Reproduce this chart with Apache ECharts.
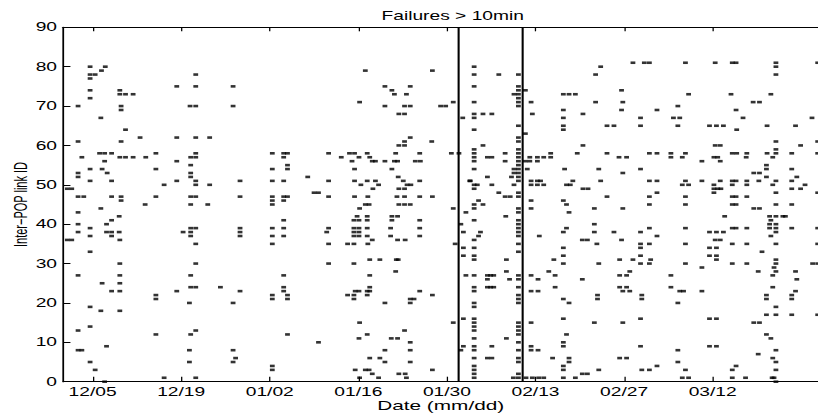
<!DOCTYPE html>
<html><head><meta charset="utf-8">
<script src="https://cdn.jsdelivr.net/npm/echarts@6/dist/echarts.min.js"></script>
<style>
html,body{margin:0;padding:0;background:#fff;overflow:hidden}
#wrap{width:818px;height:418px;overflow:hidden}
#chart{width:511px;height:418px;transform:scaleX(1.60078);transform-origin:0 0}
</style>
</head><body><div id="wrap"><div id="chart"></div></div>
<script>
// x values: days after 12/05; y values: inter-POP link ID
const tickDays = [0, 14, 28, 42, 56, 70, 84, 98];
const tickLabels = ['12/05', '12/19', '01/02', '01/16', '01/30', '02/13', '02/27', '03/12'];
const dayRange = [-4.62, 114.65];
const linkRange = [0, 90];
const eventDays = [57.9, 67.8];

const failuresDec = [
  [-4.0,49],[-3.3,49],[-2.3,70],[-2.3,61],[-2.3,53],[-2.3,52],[-2.3,47],[-1.4,47],[-1.7,57],
  [-0.4,80],[-0.4,78],[0.4,78],[-0.4,77],[-0.4,74],[-0.4,72],[-0.4,54],[-0.4,51],
  [1.3,67],[1.4,79],[2.0,80],[1.1,58],[1.9,58],[3.0,58],[1.9,56],[1.5,54],[2.3,53],[3.0,51],[3.0,47],[1.3,44],
  [4.3,74],[4.3,73],[5.2,73],[6.4,73],[4.5,70],[4.5,69],[5.2,64],[4.5,61],[4.3,57],[5.2,57],[6.4,57],[4.5,47],[4.5,46],
  [7.5,62],[8.4,57],[10.0,58],[10.0,54],[10.0,47],[8.3,45],[11.3,50],
  [13.3,75],[13.3,62],[13.3,56],[13.3,51],
  [15.4,70],[16.3,70],[16.3,78],[16.3,75],[16.3,62],[16.3,58],[16.3,57],[15.5,57],[15.5,55],[15.5,53],[15.5,52],[16.3,51],[16.3,50],[15.5,47],[16.3,47],[15.5,45],
  [18.5,62],[18.5,50],[18.2,45],[22.2,75],[22.2,70],[23.3,51],[23.3,47],
  [28.4,58],[28.4,54],[28.4,51],[28.4,47],[28.4,46],[28.4,45],
  [30.2,58],[30.8,58],[30.2,57],[30.8,55],[30.8,54],[30.2,51],[30.2,47],[30.8,47],[30.2,46],
  [-4.0,36],[-3.3,36],[-2.3,43],[-2.3,40],[-2.3,38],[-2.3,27],[-2.3,13],[-2.3,8],[-1.7,8],
  [-0.4,39],[-0.4,37],[-0.4,33],[-0.4,19],[-0.4,14],[-0.4,5],[0.4,3],
  [1.5,25],[1.3,18],[2.2,40],[3.0,41],[2.2,38],[3.0,38],[4.2,38],[3.0,37],[4.2,42],[4.3,36],[2.2,9],
  [4.3,30],[4.3,27],[4.3,25],[3.0,23],[4.3,23],[4.3,18],[1.9,0],
  [10.0,22],[10.0,21],[10.0,12],[11.3,1],[13.3,23],
  [14.3,38],[15.5,38],[15.5,39],[16.3,39],[15.5,37],[16.3,35],[16.3,30],[15.5,27],[15.5,24],[16.3,24],[15.3,20],[15.5,12],[16.3,13],[15.3,8],[15.3,5],[16.3,1],
  [20.2,24],[22.2,20],[22.2,8],[22.6,6],[22.2,5],[23.3,39],[23.3,38],[23.3,37],[23.3,23],
  [28.4,39],[28.4,37],[28.4,35],[28.4,22],[28.4,21],[28.4,4],[28.4,3],
  [30.2,41],[30.2,39],[30.2,37],[30.2,27],[30.2,24],[30.2,23],[30.8,22],[30.8,21],[30.8,12]
];

const failuresJan = [
  [43.1,79],[53.7,79],[46.2,75],[47.3,74],[47.7,73],[50.2,75],[49.6,73],
  [42.2,71],[46.2,70],[49.3,70],[50.2,70],[48.4,68],[49.3,68],[55.0,70],[55.8,70],[57.0,71],[58.5,67],
  [50.2,62],[49.3,61],[49.3,60],[48.4,60],[53.6,61],
  [37.3,58],[40.6,58],[41.4,58],[43.4,58],[47.9,58],[51.7,58],[56.7,58],[57.9,58],
  [39.3,57],[42.1,57],[43.8,57],
  [41.0,56],[44.2,56],[44.7,56],[46.2,56],[47.7,56],[48.2,56],[51.0,56],[51.8,56],
  [41.4,54],[47.3,54],[34.0,52],[48.3,52],[59.6,51],
  [37.3,51],[41.4,51],[43.4,51],[44.7,51],[49.1,51],[51.7,51],
  [42.4,50],[45.2,50],[49.7,50],[50.3,50],[44.3,49],[48.4,49],[49.3,49],[35.0,48],[35.7,48],
  [37.3,47],[41.4,47],[43.5,47],[48.1,47],[49.3,47],[51.7,47],[53.7,47],
  [43.1,45],[43.7,45],[48.4,45],[49.3,45],[50.2,45],
  [42.2,44],[57.0,44],[59.0,43],
  [41.8,42],[43.4,42],[47.3,42],[48.2,42],
  [41.3,41],[42.1,41],[43.4,41],[47.3,41],[51.7,41],
  [37.3,39],[41.3,39],[42.1,39],[43.4,39],[47.1,39],[51.7,39],
  [37.0,38],[41.3,38],[42.1,38],
  [41.3,37],[42.1,37],[43.4,37],[47.1,37],[51.7,37],
  [44.2,36],[48.2,36],[49.4,36],
  [37.3,35],[40.3,35],[41.3,35],[43.5,35],[57.3,35],
  [58.6,38],[58.2,40],[58.6,34],[58.6,32],
  [43.8,31],[45.4,31],[48.0,31],[48.3,31],[37.3,30],[41.3,30],
  [47.9,28],[43.8,27],[59.0,27],[43.8,24],
  [41.5,23],[42.1,23],[43.4,23],[43.8,23],[51.7,23],
  [53.7,22],[40.3,22],[41.3,22],[43.4,22],
  [41.3,21],[50.2,21],[50.8,21],[50.2,20],[46.2,20],
  [42.2,15],[57.0,15],[58.6,16],[49.3,13],[42.1,11],[43.4,12],[35.7,10],[47.2,11],[48.2,11],[50.2,10],
  [58.6,9],[58.2,8],[46.2,8],[50.2,8],[43.8,6],[45.4,6],[46.2,5],[50.2,5],
  [41.5,3],[43.1,3],[43.7,3],[53.7,3],[48.4,2],[49.4,2],[44.2,2],[42.2,1],[45.2,1],[49.6,1]
];

const failuresFeb = [
  [60.3,80],[60.3,78],[64.2,78],[67.3,78],[60.3,75],
  [67.3,75],[67.3,74],[67.3,73],[67.3,72],[67.3,71],[67.3,70],[68.4,74],[66.6,73],
  [60.3,71],[69.3,71],[60.3,68],[61.7,68],[63.1,68],[60.3,67],[69.5,68],
  [60.3,64],[67.3,65],[68.4,63],[67.3,62],[67.3,61],[61.7,60],[67.3,59],[60.3,59],
  [60.3,58],[60.3,57],[60.3,56],[62.4,57],[63.1,57],[65.2,58],[65.2,56],
  [67.3,58],[67.3,57],[67.3,56],[67.3,55],[67.3,54],[67.3,53],[67.3,52],[67.3,51],[66.6,54],[66.6,53],[66.2,52],
  [68.4,56],[69.1,57],[70.3,57],[71.3,57],[69.1,56],[70.3,56],
  [60.3,54],[62.4,52],[59.7,51],[60.3,50],[60.8,50],[60.3,49],[63.1,50],[66.6,50],[64.2,48],[65.2,47],[66.0,47],[67.3,48],[67.3,47],
  [61.0,46],[61.7,45],[60.3,45],
  [74.4,73],[75.3,73],[76.3,73],[79.5,71],[80.3,80],[79.5,78],[85.4,81],[83.6,74],[83.8,71],[83.6,69],[74.4,69],[77.5,68],[74.4,67],
  [74.4,65],[74.4,64],[81.3,65],[82.4,65],[86.6,65],[86.6,67],[77.5,60],
  [72.4,58],[72.4,57],[76.6,58],[81.3,58],[83.2,57],[84.4,57],
  [68.7,54],[74.6,54],[80.0,54],[86.6,54],[83.8,53],
  [69.3,51],[70.3,51],[70.8,51],[69.3,50],[70.3,50],[71.3,50],[75.9,51],[74.9,50],[75.5,50],[80.3,51],[77.5,49],[78.3,49],[81.3,47],
  [69.3,46],[74.4,46],[74.9,45],
  [60.3,44],[60.3,41],[65.3,42],
  [67.3,44],[67.3,43],[67.3,41],[67.3,40],[67.3,39],[67.3,38],[67.3,37],[67.3,35],[67.3,33],
  [61.3,38],[61.0,37],[60.3,36],[60.3,34],[60.3,32],[60.3,31],[65.4,31],[65.4,28],[65.9,26],
  [60.3,27],[62.4,27],[62.9,27],[63.4,27],[62.4,26],[67.3,27],[67.3,26],
  [60.3,24],[60.3,23],[62.4,24],[62.9,24],[63.4,24],
  [67.3,24],[67.3,22],[67.3,21],[67.3,20],[60.3,20],[60.3,19],
  [60.3,16],[60.3,15],[60.3,14],[60.3,13],[67.3,15],[67.3,14],[67.3,13],[67.3,12],
  [60.3,11],[65.4,11],[60.3,9],[60.3,8],[63.1,9],[67.3,10],[67.3,8],
  [60.3,6],[62.4,6],[63.1,6],[67.3,6],[67.3,5],
  [60.3,4],[60.3,3],[60.3,2],[60.3,1],[66.5,1],[67.3,2],[67.3,1],
  [69.3,44],[75.3,43],[79.3,44],[83.8,44],
  [74.9,39],[74.4,38],[79.3,40],[79.3,38],[70.6,37],[82.4,38],[77.4,36],[78.2,36],[83.6,36],[79.7,35],[74.4,34],[74.4,32],[74.4,30],
  [72.9,31],[80.0,30],[83.3,31],[85.4,31],[72.1,28],[84.9,28],
  [69.3,27],[70.4,26],[73.1,27],[77.4,26],[83.3,27],[84.4,27],
  [69.3,23],[70.4,23],[73.1,24],[83.3,24],[84.4,24],[83.8,23],[84.9,23],
  [79.8,22],[79.8,21],[74.4,21],[75.3,20],
  [69.3,15],[74.4,16],[79.3,15],[83.8,15],[74.9,12],[74.4,10],[74.4,9],[69.3,9],[69.3,8],[70.4,8],
  [72.7,6],[75.3,6],[75.3,5],[83.3,6],[84.4,6],[74.4,4],[74.4,3],[80.0,3],[77.4,2],[78.2,2],
  [68.5,1],[69.5,1],[70.5,1],[71.3,1],[74.4,1],[76.3,1],[86.6,9],[86.6,32]
];

const failuresMar = [
  [87.2,81],[88.0,81],[93.7,81],[98.4,81],[101.1,81],[101.7,81],[108.0,81],[114.6,81],
  [108.0,80],[108.0,78],[94.2,73],[100.9,73],[107.2,73],[104.4,71],[105.4,71],
  [89.2,69],[92.5,70],[101.7,69],
  [91.8,67],[92.8,67],[102.8,67],[113.7,67],
  [92.5,65],[97.5,65],[98.6,65],[99.7,65],[106.6,65],[111.1,65],
  [101.8,64],[108.0,61],[108.0,59],[98.4,60],[99.2,60],[111.9,60],[114.6,61],
  [88.0,58],[89.2,58],[91.4,58],[93.7,58],[101.1,58],[101.8,58],[103.4,58],[106.6,58],[108.0,58],[110.5,58],[114.6,58],
  [91.4,57],[93.2,57],[98.2,57],[98.8,57],[103.3,57],[107.5,57],
  [96.3,56],[99.2,56],[106.5,55],[106.5,54],[110.5,54],[104.5,53],[105.4,53],[106.5,52],[111.3,52],
  [88.0,51],[89.2,51],[93.7,51],[96.3,51],[99.2,51],[101.1,51],[101.7,51],[103.4,51],[105.3,51],[108.0,51],[110.5,51],
  [98.2,50],[107.5,50],[112.6,50],[93.2,50],[94.2,50],[101.1,50],[103.4,50],
  [98.2,49],[98.8,49],[99.3,49],[110.5,49],[111.9,49],
  [89.2,48],[98.2,48],[108.0,48],[114.6,48],
  [88.0,47],[93.7,47],[101.1,47],[101.7,47],[103.4,47],
  [88.0,45],[93.7,45],[101.1,45],[101.7,45],[108.0,45],[110.5,45],
  [104.5,44],[105.4,44],[99.9,42],[107.0,42],[108.0,42],[109.1,42],[109.5,42],[107.2,41],[107.0,40],[108.0,40],
  [88.0,39],[93.7,39],[101.1,39],[101.7,39],[103.4,39],[107.0,39],[108.0,39],[110.5,39],[114.6,39],
  [86.6,38],[97.5,38],[98.6,38],[99.7,38],[108.0,38],[107.2,37],[89.2,37],[98.4,36],[99.2,36],
  [86.6,35],[88.0,35],[93.7,35],[101.1,35],[103.4,35],[108.0,35],[114.6,35],
  [86.6,34],[97.5,34],[98.6,34],[105.8,33],[88.2,31],[97.5,32],[98.6,32],[98.6,31],
  [86.6,30],[88.0,30],[93.7,30],[101.1,30],[103.4,30],[108.0,30],[113.8,30],[114.6,30],[108.0,31],
  [96.3,29],[107.7,29],[105.2,28],[108.0,28],[111.1,28],[91.4,27],[107.5,27],[111.3,26],
  [91.4,24],[92.8,23],[93.4,23],[96.3,23],[107.5,24],[111.1,23],
  [86.8,22],[86.8,21],[106.5,22],[106.5,21],[110.5,22],[110.5,21],[92.5,20],[108.0,19],
  [106.5,17],[108.0,17],[110.5,17],[114.6,17],
  [86.6,16],[97.5,16],[98.6,16],[104.5,15],[105.4,15],[106.5,12],[107.2,11],
  [97.5,9],[98.6,9],[92.5,8],[108.0,8],[105.2,7],[107.5,6],[108.0,5],[92.5,5],[89.2,4],[101.7,4],
  [86.8,3],[88.0,3],[93.7,3],[101.1,3],[108.0,3],
  [93.2,1],[94.2,1],[101.1,1],[103.2,1],[107.4,1],[107.7,1],[108.0,0]
];

const failures = failuresDec.concat(failuresJan, failuresFeb, failuresMar);

const FONT = '"Liberation Sans", Arial, Helvetica, sans-serif';
const chart = echarts.init(document.getElementById('chart'), null, {renderer: 'svg'});
chart.setOption({
  animation: false,
  backgroundColor: '#fff',
  textStyle: {fontFamily: FONT, color: '#000'},
  title: {
    text: 'Failures > 10min',
    left: 277.8, top: 5, textAlign: 'center',
    textStyle: {fontSize: 12, fontWeight: 'normal', color: '#000', fontFamily: FONT}
  },
  grid: {left: 39.6, right: 0, top: 27.3, bottom: 36.3, containLabel: false, outerBoundsMode: 'none'},
  xAxis: [{
    type: 'value', position: 'bottom', min: dayRange[0], max: dayRange[1],
    axisLine: {show: true, onZero: false, lineStyle: {color: '#000', width: 1.2}},
    axisTick: {show: true, inside: true, length: 5, customValues: tickDays, lineStyle: {color: '#000', width: 0.8}},
    axisLabel: {show: true, customValues: tickDays, margin: 4, fontSize: 12, color: '#000', fontFamily: FONT,
      formatter: v => tickLabels[tickDays.indexOf(Math.round(v))] || ''},
    splitLine: {show: false},
    name: 'Date (mm/dd)', nameLocation: 'middle', nameGap: 17, nameMoveOverlap: false,
    nameTextStyle: {fontSize: 13, color: '#000', fontFamily: FONT}
  }, {
    type: 'value', position: 'top', min: dayRange[0], max: dayRange[1],
    axisLine: {show: true, onZero: false, lineStyle: {color: '#000', width: 1.2}},
    axisTick: {show: true, inside: true, length: 4, customValues: tickDays, lineStyle: {color: '#000', width: 0.8}},
    axisLabel: {show: false},
    splitLine: {show: false}
  }],
  yAxis: {
    type: 'value', min: linkRange[0], max: linkRange[1], interval: 10,
    axisLine: {show: true, onZero: false, lineStyle: {color: '#000', width: 1.1}},
    axisTick: {show: true, inside: true, length: 4.4, lineStyle: {color: '#000', width: 1}},
    axisLabel: {margin: 4, fontSize: 12, color: '#000', fontFamily: FONT},
    splitLine: {show: false},
    name: 'Inter\u2212POP link ID', nameLocation: 'middle', nameGap: 21, nameMoveOverlap: false,
    nameTextStyle: {fontSize: 11, color: '#000', fontFamily: FONT}
  },
  series: [{
    type: 'scatter',
    xAxisIndex: 0, yAxisIndex: 0,
    data: failures,
    symbol: 'rect',
    symbolSize: [3.0, 2.6],
    itemStyle: {color: '#000'},
    silent: true,
    emphasis: {disabled: true},
    markLine: {
      silent: true, symbol: ['none', 'none'], animation: false,
      label: {show: false},
      lineStyle: {color: '#000', width: 1.3, type: 'solid'},
      emphasis: {disabled: true},
      data: eventDays.map(d => ({xAxis: d}))
    }
  }]
});
</script>
</body></html>
